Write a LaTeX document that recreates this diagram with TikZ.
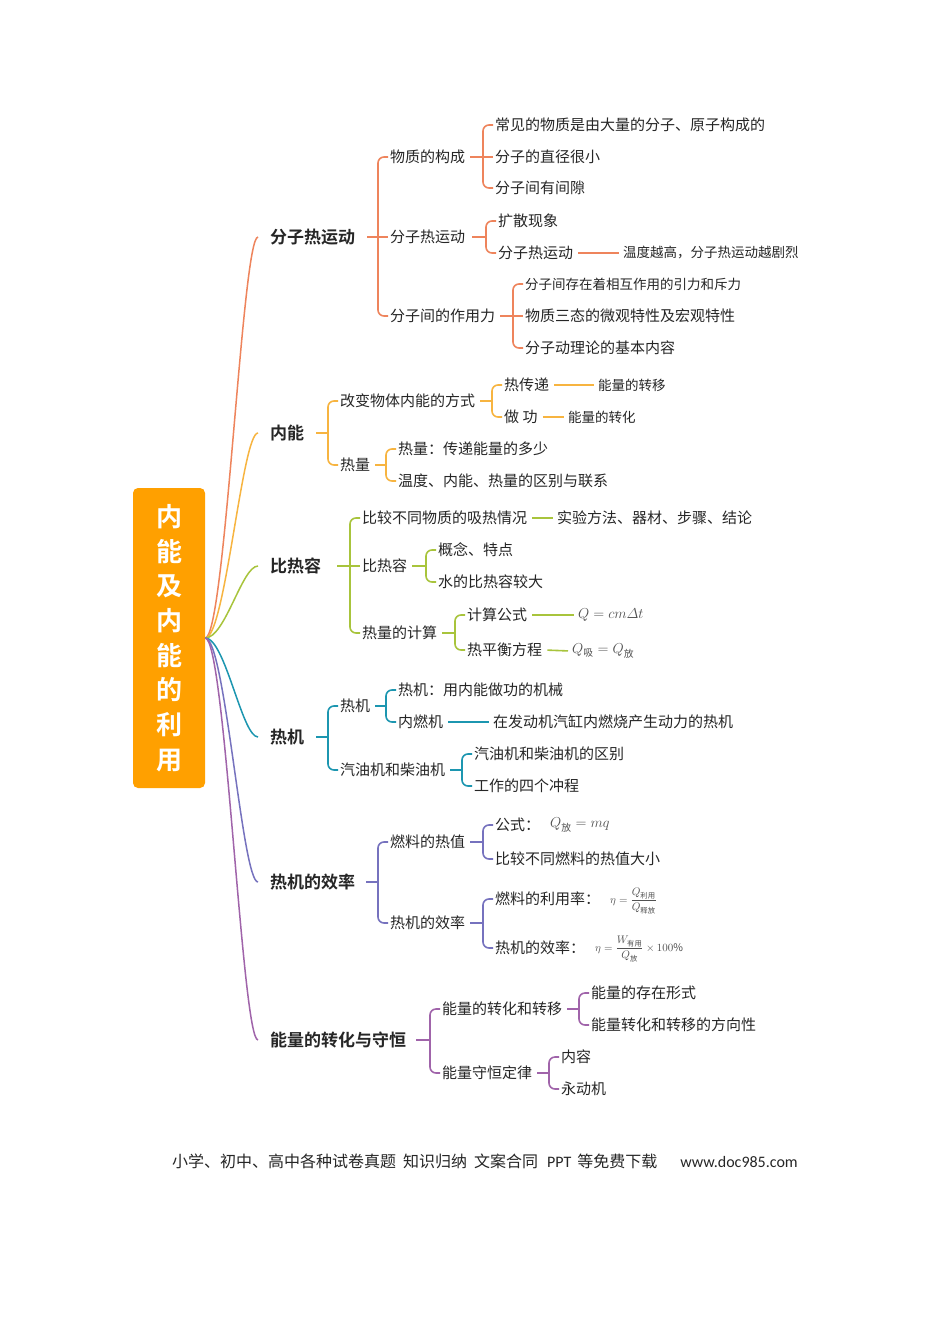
\documentclass[tikz,border=0pt]{standalone}
\usepackage{amsmath}
\usepackage{fontspec}
\setmainfont{Noto Sans CJK SC}[BoldFont=* Bold]
\newfontfamily\calfont{Carlito}
\usetikzlibrary{calc}
\definecolor{tx}{RGB}{38,38,38}
\definecolor{fm}{RGB}{80,80,80}
\definecolor{rootc}{RGB}{255,160,0}
\definecolor{cA}{RGB}{238,132,92}
\definecolor{cB}{RGB}{247,180,64}
\definecolor{cC}{RGB}{168,196,60}
\definecolor{cD}{RGB}{28,150,176}
\definecolor{cE}{RGB}{118,114,190}
\definecolor{cF}{RGB}{160,100,170}
\newcommand\mmstub[4]{\draw[#1] ($(#2.east)+(#4,0)$) -- ($(#2.east -| #3.west)+(-10,0)$);}
\newcommand\mmbrk[3]{\draw[#1] (#2.west) -- ++(-10,0) |- (#3.west);}
\newcommand\mmdirect[4]{\draw[#1] ($(#2.east)+(#4,0)$) -- (#3.west);}
\newcommand\mmlink[3]{\draw[#1, shorten <=3pt, shorten >=2pt] (#2.east) -- (#3.west);}
\newcommand\mmcurve[2]{\draw[#1, line width=1.5pt, rounded corners=0pt] (root.east) .. controls +(20,0) and +(-16,0) .. ($(#2.west)+(-10,0)$);}
\begin{document}
\begin{tikzpicture}[x=1pt,y=-1pt,
  every node/.style={inner sep=2pt},
  lbl/.style={anchor=west, text=tx, font=\fontsize{15}{18}\selectfont},
  sml/.style={anchor=west, text=tx, font=\fontsize{13.5}{16}\selectfont},
  topic/.style={anchor=west, text=tx, font=\bfseries\fontsize{17}{20}\selectfont},
  frm/.style={anchor=west, text=fm, font=\fontsize{14}{16}\selectfont},
  frs/.style={anchor=west, text=fm, font=\fontsize{10.5}{12}\selectfont},
  lA/.style={draw=cA, line width=1.6pt, rounded corners=6pt},
  lB/.style={draw=cB, line width=1.6pt, rounded corners=6pt},
  lC/.style={draw=cC, line width=1.6pt, rounded corners=6pt},
  lD/.style={draw=cD, line width=1.6pt, rounded corners=6pt},
  lE/.style={draw=cE, line width=1.6pt, rounded corners=6pt},
  lF/.style={draw=cF, line width=1.6pt, rounded corners=6pt}]
\useasboundingbox (0,0) rectangle (950,1344);
\fill[white] (0,0) rectangle (950,1344);

% root
\node[fill=rootc, rounded corners=5pt, minimum width=72pt, minimum height=300pt,
  text=white, font=\bfseries\fontsize{26}{34.7}\selectfont, align=center, inner sep=0pt]
  (root) at (169,638) {内\\能\\及\\内\\能\\的\\利\\用};

% topics
\node[topic] (t1) at (268,237) {分子热运动};
\node[topic] (t2) at (268,433) {内能};
\node[topic] (t3) at (268,566) {比热容};
\node[topic] (t4) at (268,737) {热机};
\node[topic] (t5) at (268,882) {热机的效率};
\node[topic] (t6) at (268,1040) {能量的转化与守恒};

% ---- topic 1
\node[lbl] (a1) at (388,157) {物质的构成};
\node[lbl] (a2) at (388,237) {分子热运动};
\node[lbl] (a3) at (388,316) {分子间的作用力};
\node[lbl] (a11) at (493,125) {常见的物质是由大量的分子、原子构成的};
\node[lbl] (a12) at (493,157) {分子的直径很小};
\node[lbl] (a13) at (493,188) {分子间有间隙};
\node[lbl] (a21) at (496,221) {扩散现象};
\node[lbl] (a22) at (496,253) {分子热运动};
\node[sml] (a221) at (621,253) {温度越高，分子热运动越剧烈};
\node[sml] (a31) at (523,284) {分子间存在着相互作用的引力和斥力};
\node[lbl] (a32) at (523,316) {物质三态的微观特性及宏观特性};
\node[lbl] (a33) at (523,348) {分子动理论的基本内容};

% ---- topic 2
\node[lbl] (b1) at (338,401) {改变物体内能的方式};
\node[lbl] (b2) at (338,465) {热量};
\node[lbl] (b11) at (502,385) {热传递};
\node[lbl] (b12) at (502,417) {做 功};
\node[sml] (b111) at (596,385) {能量的转移};
\node[sml] (b121) at (566,417) {能量的转化};
\node[lbl] (b21) at (396,449) {热量：传递能量的多少};
\node[lbl] (b22) at (396,481) {温度、内能、热量的区别与联系};

% ---- topic 3
\node[lbl] (c1) at (360,518) {比较不同物质的吸热情况};
\node[lbl] (c2) at (360,566) {比热容};
\node[lbl] (c3) at (360,633) {热量的计算};
\node[lbl] (c11) at (555,518) {实验方法、器材、步骤、结论};
\node[lbl] (c21) at (436,550) {概念、特点};
\node[lbl] (c22) at (436,582) {水的比热容较大};
\node[lbl] (c31) at (465,615) {计算公式};
\node[lbl] (c32) at (465,650) {热平衡方程};
\node[frm] (c311) at (576,615) {$Q = cm\varDelta t$};
\node[frm] (c321) at (570,651) {$Q_{\text{吸}} = Q_{\text{放}}$};

% ---- topic 4
\node[lbl] (d1) at (338,706) {热机};
\node[lbl] (d2) at (338,770) {汽油机和柴油机};
\node[lbl] (d11) at (396,690) {热机：用内能做功的机械};
\node[lbl] (d12) at (396,722) {内燃机};
\node[lbl] (d121) at (491,722) {在发动机汽缸内燃烧产生动力的热机};
\node[lbl] (d21) at (472,754) {汽油机和柴油机的区别};
\node[lbl] (d22) at (472,786) {工作的四个冲程};

% ---- topic 5
\node[lbl] (e1) at (388,842) {燃料的热值};
\node[lbl] (e2) at (388,923) {热机的效率};
\node[lbl] (e11) at (493,825) {公式：};
\node[frm] (e11f) at (548,825) {$Q_{\text{放}} = mq$};
\node[lbl] (e12) at (493,859) {比较不同燃料的热值大小};
\node[lbl] (e21) at (493,899) {燃料的利用率：};
\node[frs] (e21f) at (608,901) {$\eta = \dfrac{Q_{\text{利用}}}{Q_{\text{释放}}}$};
\node[lbl] (e22) at (493,948) {热机的效率：};
\node[frs] (e22f) at (593,949) {$\eta = \dfrac{W_{\text{有用}}}{Q_{\text{放}}}\times 100\%$};

% ---- topic 6
\node[lbl] (f1) at (440,1009) {能量的转化和转移};
\node[lbl] (f2) at (440,1073) {能量守恒定律};
\node[lbl] (f11) at (589,993) {能量的存在形式};
\node[lbl] (f12) at (589,1025) {能量转化和转移的方向性};
\node[lbl] (f21) at (559,1057) {内容};
\node[lbl] (f22) at (559,1089) {永动机};

% footer
\node[anchor=west, text=tx, font=\fontsize{16}{18}\selectfont, inner sep=0pt] (foot) at (172,1161)
  {小学、初中、高中各种试卷真题\hspace{7pt}知识归纳\hspace{7pt}文案合同\hspace{9pt}{\calfont PPT}\hspace{6pt}等免费下载\hspace{23pt}{\calfont www.doc985.com}};

% ---- root curves
\mmcurve{cA}{t1}
\mmcurve{cB}{t2}
\mmcurve{cC}{t3}
\mmcurve{cD}{t4}
\mmcurve{cE}{t5}
\mmcurve{cF}{t6}

% ---- connectors topic 1
\mmdirect{lA}{t1}{a2}{10}
\mmbrk{lA}{a1}{a3}
\mmdirect{lA}{a1}{a12}{3}
\mmbrk{lA}{a11}{a13}
\mmstub{lA}{a2}{a21}{5}
\mmbrk{lA}{a21}{a22}
\mmlink{lA}{a22}{a221}
\mmdirect{lA}{a3}{a32}{3}
\mmbrk{lA}{a31}{a33}

% ---- topic 2
\mmstub{lB}{t2}{b1}{10}
\mmbrk{lB}{b1}{b2}
\mmstub{lB}{b1}{b11}{3}
\mmbrk{lB}{b11}{b12}
\mmlink{lB}{b11}{b111}
\mmlink{lB}{b12}{b121}
\mmstub{lB}{b2}{b21}{3}
\mmbrk{lB}{b21}{b22}

% ---- topic 3
\mmdirect{lC}{t3}{c2}{14}
\mmbrk{lC}{c1}{c3}
\mmlink{lC}{c1}{c11}
\mmstub{lC}{c2}{c21}{3}
\mmbrk{lC}{c21}{c22}
\mmstub{lC}{c3}{c31}{3}
\mmbrk{lC}{c31}{c32}
\mmlink{lC}{c31}{c311}
\mmlink{lC}{c32}{c321}

% ---- topic 4
\mmstub{lD}{t4}{d1}{10}
\mmbrk{lD}{d1}{d2}
\mmstub{lD}{d1}{d11}{3}
\mmbrk{lD}{d11}{d12}
\mmlink{lD}{d12}{d121}
\mmstub{lD}{d2}{d21}{3}
\mmbrk{lD}{d21}{d22}

% ---- topic 5
\mmstub{lE}{t5}{e1}{9}
\mmbrk{lE}{e1}{e2}
\mmstub{lE}{e1}{e11}{3}
\mmbrk{lE}{e11}{e12}
\mmstub{lE}{e2}{e21}{3}
\mmbrk{lE}{e21}{e22}

% ---- topic 6
\mmstub{lF}{t6}{f1}{8}
\mmbrk{lF}{f1}{f2}
\mmstub{lF}{f1}{f11}{3}
\mmbrk{lF}{f11}{f12}
\mmstub{lF}{f2}{f21}{3}
\mmbrk{lF}{f21}{f22}
\end{tikzpicture}
\end{document}
